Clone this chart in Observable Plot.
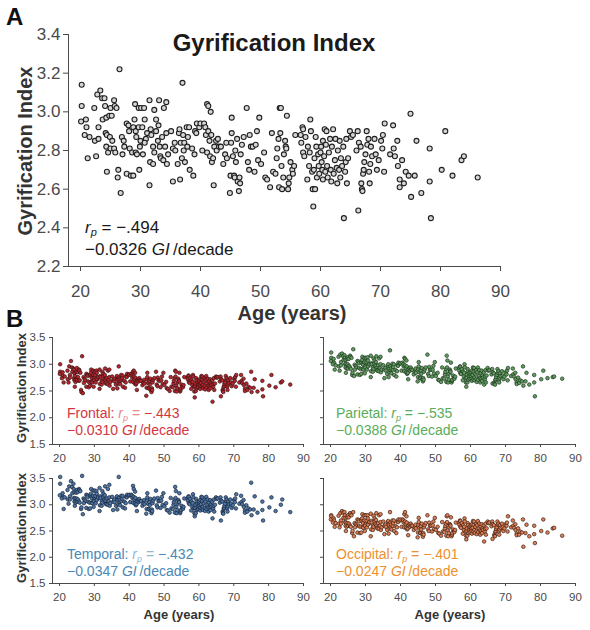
<!DOCTYPE html>
<html><head><meta charset="utf-8">
<script src="https://cdn.jsdelivr.net/npm/d3@7"></script>
<script src="https://cdn.jsdelivr.net/npm/@observablehq/plot@0.6"></script>
<style>
html,body{margin:0;padding:0;background:#fff;}
#chart{position:relative;width:590px;height:630px;overflow:hidden;font-family:"Liberation Sans",Arial,Helvetica,sans-serif;}
#chart > svg{position:absolute;}
</style></head><body><div id="chart"></div>
<script>
// Age of each subject (years)
const ages = [
20.2,20.2,20.1,20.9,21,20.7,21.5,21.2,22.3,22.4,22.6,22.8,23.3,23,23,23.7,23.6,24,24.1,24.3,24.2,24.4,24.3,24.4,24.6,24.8,25,
25.2,24.9,25,25.3,25.6,25.7,26,25.6,25.8,26.2,26.3,26.5,26.7,26.9,27.2,27.3,27,27.7,27.7,28,28.1,28.2,28.4,28.8,28.6,28.8,29.1,29,29.2,29.3,29.2,29.4,29.7,29.7,29.8,
30,29.9,30.1,30.3,30.4,30.6,30.7,30.9,30.7,31.1,31.5,31.5,31.6,31.7,31.8,32.1,32.1,32.3,32.3,32.6,32.6,33,32.9,33.1,33.2,33.3,33.4,33.6,33.8,33.9,34.1,34.3,34.3,34.4,34.6,
35.1,35.4,35.4,35.7,35.8,36.2,36.4,36.5,36.6,36.7,36.9,37,37.1,37.2,37.3,37.4,37.7,37.8,37.9,38.1,38.2,38.6,38.8,39,39.1,39.3,39.4,39.8,
40,40.3,40.6,40.8,40.9,41.1,41.3,41.1,41.3,41.5,41.7,41.6,41.8,41.9,42.1,42.2,42.3,42.6,42.7,42.9,43.1,43.4,43.8,44.1,44.3,44.4,
44.9,45,45.1,45.2,45.2,45.4,45.6,45.7,45.8,45.9,46.1,46.2,46.4,46.5,46.6,46.7,46.9,47.2,47.7,47.9,48.1,48.2,48.4,48.7,49,49.2,49.4,49.6,49.8,
50.1,50.6,50.8,51.1,51.6,51.9,52.1,52.5,52.7,52.8,53,53.1,53.2,53.4,53.3,53.5,53.6,53.8,53.9,54.1,54.2,54.3,54.4,54.6,54.7,54.8,
55,55.3,55.4,55.6,55.8,56.7,56.8,57,57.1,57.1,57.3,57.5,57.8,57.9,58.1,58.2,58.3,58.4,58.6,58.7,58.8,58.9,59,59.1,59.2,59.3,59.4,59.6,59.7,59.8,
60,60.1,60.2,60.3,60.4,60.4,60.6,60.7,60.8,60.9,61,61.1,61.2,61.4,61.6,61.7,61.8,61.9,62.1,62.2,62.4,62.5,62.7,62.8,62.9,63.1,63.2,63.3,63.4,63.6,63.8,63.9,64.1,64.2,64.3,64.4,64.6,64.9,
65.1,65.4,66,66.2,66.3,66.4,66.7,66.8,66.9,67,67.1,67.2,67.3,67.5,67.7,67.8,68,68.1,68.2,68.3,68.4,68.6,69,69.2,69.4,69.7,
70.1,70.3,70.4,70.6,70.7,71.6,72.1,72.2,72.4,72.8,72.9,73.2,73.2,73.6,73.9,74.2,74.7,75,75.1,75.7,
76,76.8,78.2,78.2,78.4,80.2,80.8,82,83.5,83.9,86.2
];
// Whole-brain gyrification index
const giWhole = [
3.14,3.03,2.95,2.96,2.92,2.88,2.87,2.76,3.02,2.85,2.77,3.09,3.11,2.92,2.86,2.96,3.07,3.07,3.03,2.97,2.89,2.88,2.82,2.69,2.79,2.98,3.02,
2.98,2.87,2.81,2.85,3.06,3.03,3.02,2.81,2.79,2.66,2.70,3.22,2.58,2.87,2.85,2.82,2.78,2.68,2.94,2.93,2.90,2.81,2.67,2.67,2.79,2.92,3.04,2.96,2.90,2.87,2.79,2.78,2.92,3.02,2.70,
2.85,2.82,3.02,2.92,2.78,3.02,2.96,2.86,2.84,2.89,2.62,3.06,2.74,2.91,2.88,2.82,2.73,2.79,3.01,2.96,2.90,2.93,2.85,3.06,2.82,2.77,2.76,2.87,2.75,3.02,2.82,3.05,2.89,2.73,2.78,
2.90,2.64,2.81,2.84,2.80,2.73,2.89,2.91,2.65,2.84,2.76,3.15,2.88,2.80,2.84,2.74,2.92,2.82,2.87,2.92,2.70,2.81,2.67,2.78,2.90,2.89,2.94,2.92,
2.94,2.80,2.94,2.92,2.88,3.04,3.03,2.79,2.90,2.85,3.00,2.77,2.88,2.74,2.76,2.62,2.82,2.85,2.80,2.86,2.82,2.82,2.73,2.78,2.84,2.76,
2.58,2.67,2.84,2.97,2.89,2.77,2.67,2.66,2.80,2.74,2.86,2.64,2.59,2.66,2.63,2.78,2.83,2.87,3.02,2.74,2.70,2.88,2.82,2.82,2.69,2.83,2.90,2.75,2.97,
2.73,2.79,2.66,2.65,2.61,2.89,2.69,2.68,2.76,2.81,2.86,2.61,3.02,3.02,2.89,2.72,2.60,2.66,2.78,2.85,2.82,2.81,2.98,2.60,2.63,2.66,
2.74,2.70,2.68,2.72,2.88,2.88,2.84,2.92,2.91,2.79,2.77,2.87,2.65,2.82,2.72,2.79,2.96,2.90,2.69,2.60,2.51,2.70,2.76,2.60,2.87,2.82,2.66,2.78,2.72,2.68,
2.79,2.82,2.74,2.70,2.85,2.65,2.77,2.91,2.69,2.83,2.90,2.72,2.66,2.79,2.86,2.70,2.64,2.82,2.91,2.68,2.75,2.86,2.71,2.63,2.80,2.70,2.85,2.66,2.76,2.72,2.82,2.45,2.69,2.74,2.86,2.63,2.76,2.90,
2.87,2.88,2.80,2.90,2.49,2.84,2.82,2.63,2.60,2.59,2.68,2.70,2.74,2.78,2.90,2.83,2.86,2.69,2.63,2.73,2.82,2.77,2.86,2.78,2.70,2.75,
2.85,2.81,2.88,2.69,2.94,2.78,2.93,2.81,2.77,2.85,2.72,2.65,2.61,2.75,2.63,2.69,2.67,2.99,2.56,2.67,
2.85,2.58,2.81,2.64,2.45,2.70,2.90,2.67,2.75,2.77,2.66
];
const giFrontal = [
3.00,2.86,2.82,2.85,2.78,2.74,2.77,2.66,2.88,2.72,2.66,2.96,3.06,2.80,2.75,2.86,2.94,2.92,2.90,2.83,2.74,2.78,2.70,2.58,2.67,2.86,2.93,
2.85,2.72,2.70,2.76,2.90,2.88,2.84,2.69,2.70,2.52,2.48,3.15,2.46,2.76,2.73,2.70,2.65,2.58,2.82,2.80,2.78,2.68,2.57,2.60,2.66,2.80,2.90,2.84,2.76,2.74,2.67,2.66,2.80,2.88,2.58,
2.74,2.70,2.86,2.80,2.66,2.88,2.84,2.72,2.73,2.76,2.54,2.90,2.63,2.78,2.76,2.69,2.62,2.67,2.86,2.82,2.77,2.80,2.72,2.92,2.70,2.64,2.66,2.74,2.63,2.88,2.71,2.90,2.76,2.60,2.67,
2.77,2.54,2.70,2.72,2.68,2.62,2.76,2.78,2.55,2.71,2.64,2.96,2.75,2.68,2.72,2.63,2.80,2.70,2.74,2.79,2.58,2.69,2.56,2.66,2.77,2.76,2.82,2.80,
2.81,2.68,2.82,2.79,2.75,2.86,2.88,2.67,2.77,2.72,2.84,2.64,2.75,2.62,2.65,2.52,2.70,2.72,2.68,2.74,2.70,2.69,2.61,2.66,2.71,2.64,
2.41,2.56,2.72,2.84,2.76,2.65,2.55,2.55,2.68,2.62,2.73,2.52,2.48,2.55,2.52,2.66,2.71,2.74,2.86,2.62,2.59,2.75,2.70,2.69,2.57,2.70,2.77,2.63,2.84,
2.61,2.67,2.55,2.54,2.50,2.76,2.58,2.57,2.64,2.69,2.74,2.50,2.88,2.86,2.77,2.60,2.49,2.55,2.66,2.73,2.70,2.68,2.84,2.49,2.52,2.55,
2.62,2.59,2.57,2.61,2.76,2.75,2.72,2.79,2.78,2.67,2.65,2.74,2.54,2.70,2.61,2.67,2.80,2.77,2.58,2.49,2.38,2.59,2.64,2.50,2.74,2.70,2.55,2.66,2.61,2.57,
2.67,2.70,2.62,2.59,2.73,2.54,2.65,2.78,2.58,2.71,2.77,2.61,2.55,2.67,2.74,2.59,2.53,2.70,2.78,2.57,2.64,2.73,2.60,2.52,2.68,2.59,2.72,2.55,2.64,2.61,2.70,2.30,2.58,2.63,2.74,2.52,2.64,2.77,
2.75,2.76,2.68,2.77,2.40,2.72,2.70,2.52,2.50,2.48,2.57,2.59,2.63,2.66,2.78,2.71,2.74,2.58,2.52,2.62,2.70,2.65,2.74,2.66,2.59,2.64,
2.73,2.69,2.76,2.58,2.80,2.66,2.80,2.69,2.65,2.73,2.61,2.54,2.50,2.64,2.52,2.58,2.56,2.86,2.48,2.56,
2.72,2.49,2.69,2.53,2.40,2.60,2.80,2.57,2.66,2.68,2.62
];
const giParietal = [
3.22,3.12,3.06,3.10,3.03,3.00,2.98,2.90,3.14,2.96,2.88,3.18,3.20,3.04,2.98,3.08,3.15,3.17,3.12,3.08,3.00,3.01,2.94,2.84,2.92,3.10,3.13,
3.10,3.00,2.92,2.97,3.16,3.14,3.12,2.94,2.91,2.80,2.84,3.28,2.78,2.99,2.97,2.94,2.90,2.81,3.06,3.05,3.02,2.93,2.80,2.82,2.91,3.03,3.14,3.08,3.01,2.99,2.91,2.90,3.04,3.12,2.83,
2.97,2.94,3.12,3.04,2.90,3.13,3.07,2.98,2.96,3.00,2.76,3.16,2.87,3.02,3.00,2.94,2.86,2.91,3.11,3.07,3.01,3.04,2.97,3.15,2.93,2.89,2.88,2.98,2.87,3.11,2.93,3.14,3.00,2.85,2.90,
2.98,2.74,2.90,2.93,2.88,2.82,2.97,3.00,2.76,2.92,2.85,3.26,2.96,2.89,2.92,2.83,3.01,2.90,2.95,3.00,2.80,2.89,2.77,2.87,2.98,2.97,3.03,3.01,
3.02,2.88,3.03,3.00,2.96,3.12,3.10,2.87,2.98,2.93,3.07,2.85,2.96,2.82,2.84,2.72,2.90,2.93,2.88,2.94,2.90,2.89,2.81,2.86,2.92,2.84,
2.68,2.76,2.91,3.04,2.96,2.85,2.75,2.74,2.88,2.82,2.93,2.72,2.68,2.74,2.71,2.86,2.90,2.94,3.18,2.82,2.78,2.95,2.89,2.90,2.77,2.90,2.97,2.83,3.04,
2.78,2.84,2.71,2.70,2.67,2.94,2.74,2.73,2.81,2.86,2.91,2.67,3.16,3.07,2.94,2.77,2.66,2.71,2.83,2.90,2.87,2.86,3.03,2.66,2.69,2.71,
2.79,2.75,2.73,2.77,2.92,2.93,2.88,2.96,2.95,2.83,2.82,2.91,2.70,2.86,2.77,2.84,3.00,2.94,2.74,2.66,2.58,2.75,2.81,2.66,2.91,2.86,2.71,2.83,2.77,2.73,
2.82,2.85,2.77,2.73,2.88,2.69,2.80,2.94,2.72,2.86,2.93,2.75,2.70,2.82,2.89,2.73,2.67,2.85,2.94,2.71,2.78,2.89,2.74,2.66,2.83,2.73,2.88,2.69,2.79,2.75,2.85,2.62,2.72,2.77,2.89,2.66,2.79,2.93,
2.88,2.89,2.81,2.91,2.64,2.85,2.83,2.66,2.63,2.62,2.70,2.72,2.76,2.80,2.91,2.84,2.87,2.71,2.66,2.75,2.83,2.78,2.87,2.79,2.72,2.77,
2.85,2.81,2.88,2.70,2.93,2.78,2.92,2.81,2.77,2.84,2.72,2.66,2.63,2.75,2.65,2.70,2.68,2.96,2.60,2.68,
2.84,2.62,2.80,2.66,2.40,2.72,2.88,2.74,2.76,2.77,2.73
];
const giTemporal = [
3.53,3.40,3.18,3.22,3.15,3.12,3.14,2.92,3.28,3.10,3.02,3.35,3.45,3.16,3.10,3.22,3.34,3.40,3.30,3.24,3.13,3.12,3.06,2.98,3.04,3.23,3.28,
3.24,3.12,3.06,3.10,3.30,3.28,3.26,3.06,3.04,2.92,2.95,3.55,2.82,3.12,3.10,3.07,3.03,2.94,3.19,3.18,3.15,3.06,2.92,2.93,3.04,3.17,3.30,3.21,3.15,3.12,3.04,3.03,3.17,3.27,2.96,
3.10,3.07,3.27,3.17,3.03,3.26,3.21,3.11,3.09,3.14,2.88,3.32,2.99,3.16,3.13,3.07,2.98,3.04,3.26,3.21,3.15,3.18,3.10,3.35,3.07,3.02,3.01,3.12,3.00,3.30,3.07,3.38,3.14,2.98,3.03,
3.15,2.90,3.06,3.09,3.05,2.98,3.14,3.16,2.91,3.09,3.01,3.53,3.13,3.05,3.09,2.99,3.17,3.07,3.12,3.17,2.95,3.06,2.93,3.03,3.15,3.14,3.19,3.17,
3.19,3.05,3.19,3.17,3.13,3.36,3.30,3.04,3.15,3.10,3.25,3.02,3.13,2.99,3.01,2.88,3.07,3.10,3.05,3.11,3.07,3.07,2.98,3.03,3.09,3.01,
2.83,2.92,3.09,3.22,3.14,3.02,2.92,2.91,3.05,2.99,3.11,2.89,2.84,2.91,2.88,3.03,3.08,3.12,3.27,2.99,2.95,3.13,3.07,3.07,2.94,3.08,3.15,3.00,3.22,
2.97,3.03,2.90,2.89,2.85,3.13,2.93,2.92,3.00,3.05,3.10,2.85,3.34,3.26,3.13,2.96,2.84,2.90,3.02,3.09,3.06,3.05,3.22,2.84,2.87,2.90,
2.98,2.94,2.92,2.96,3.12,3.12,3.08,3.16,3.15,3.03,3.01,3.11,2.89,3.06,2.96,3.03,3.20,3.14,2.93,2.84,2.78,2.94,3.00,2.84,3.11,3.06,2.90,3.02,2.96,2.92,
3.03,3.06,2.98,2.94,3.09,2.89,3.01,3.15,2.93,3.07,3.14,2.96,2.90,3.03,3.10,2.94,2.88,3.06,3.15,2.92,2.99,3.10,2.95,2.87,3.04,2.94,3.09,2.90,3.00,2.96,3.06,2.74,2.93,2.98,3.10,2.87,3.00,3.14,
3.11,3.12,3.04,3.14,2.70,3.08,3.06,2.87,2.84,2.83,2.92,2.94,2.98,3.02,3.14,3.07,3.10,2.93,2.87,2.97,3.06,3.01,3.10,3.02,2.94,2.99,
3.09,3.05,3.12,2.93,3.20,3.02,3.17,3.05,3.01,3.09,2.96,2.89,2.85,2.99,2.87,2.93,2.91,3.42,2.80,2.91,
3.16,2.85,3.06,2.90,2.70,2.95,3.14,2.88,3.00,3.10,2.86
];
const giOccipital = [
2.80,2.78,2.72,2.74,2.70,2.66,2.65,2.58,2.79,2.64,2.57,2.84,2.88,2.70,2.64,2.75,2.85,2.86,2.80,2.75,2.67,2.66,2.60,2.50,2.58,2.76,2.80,
2.76,2.65,2.60,2.64,2.84,2.81,2.80,2.60,2.58,2.46,2.50,2.86,2.40,2.65,2.63,2.60,2.57,2.47,2.72,2.71,2.68,2.59,2.46,2.47,2.58,2.70,2.82,2.74,2.68,2.65,2.57,2.56,2.70,2.80,2.50,
2.63,2.60,2.80,2.70,2.57,2.80,2.74,2.64,2.62,2.67,2.40,2.83,2.53,2.69,2.66,2.60,2.52,2.58,2.79,2.74,2.68,2.71,2.63,2.84,2.60,2.56,2.55,2.65,2.54,2.80,2.60,2.82,2.67,2.52,2.57,
2.68,2.44,2.60,2.62,2.58,2.52,2.67,2.69,2.45,2.62,2.55,2.86,2.66,2.58,2.62,2.53,2.70,2.60,2.65,2.70,2.50,2.59,2.46,2.57,2.68,2.67,2.72,2.70,
2.72,2.58,2.72,2.70,2.66,2.82,2.86,2.57,2.68,2.63,2.78,2.56,2.66,2.53,2.55,2.42,2.60,2.63,2.58,2.64,2.60,2.60,2.52,2.57,2.62,2.55,
2.38,2.47,2.62,2.75,2.67,2.56,2.47,2.46,2.59,2.53,2.64,2.44,2.39,2.46,2.43,2.57,2.61,2.65,2.80,2.53,2.50,2.66,2.60,2.60,2.49,2.61,2.68,2.54,2.75,
2.52,2.58,2.46,2.45,2.41,2.67,2.49,2.48,2.55,2.60,2.64,2.41,2.78,2.80,2.67,2.51,2.40,2.46,2.57,2.63,2.61,2.60,2.76,2.40,2.43,2.46,
2.53,2.50,2.48,2.52,2.66,2.66,2.62,2.70,2.69,2.58,2.56,2.65,2.45,2.61,2.52,2.58,2.74,2.68,2.49,2.41,2.34,2.50,2.55,2.41,2.65,2.61,2.46,2.57,2.52,2.48,
2.58,2.61,2.54,2.50,2.63,2.45,2.56,2.69,2.49,2.62,2.68,2.52,2.46,2.58,2.64,2.50,2.44,2.61,2.69,2.48,2.55,2.64,2.51,2.43,2.59,2.50,2.63,2.46,2.55,2.52,2.61,2.30,2.49,2.54,2.64,2.43,2.55,2.68,
2.65,2.66,2.59,2.68,2.35,2.63,2.61,2.43,2.41,2.40,2.48,2.50,2.54,2.57,2.68,2.62,2.64,2.49,2.43,2.53,2.61,2.56,2.64,2.57,2.50,2.55,
2.63,2.60,2.66,2.49,2.78,2.57,2.70,2.60,2.56,2.63,2.52,2.45,2.42,2.55,2.43,2.49,2.47,2.72,2.20,2.46,
2.62,2.40,2.60,2.44,2.27,2.50,2.72,2.47,2.55,2.56,2.41
];

const xTicks = [20,30,40,50,60,70,80,90];
const mainYTicks = [2.2,2.4,2.6,2.8,3.0,3.2,3.4];
const regionYTicks = [1.5,2.0,2.5,3.0,3.5];

const FONT = '"Liberation Sans", Arial, Helvetica, sans-serif';
const chart = document.getElementById("chart");

function panel(o) {
  const n = Math.min(ages.length, o.values.length);
  const idx = d3.range(n);
  const svg = Plot.plot({
    width: o.width, height: o.height,
    marginLeft: o.ml, marginRight: o.mr, marginTop: o.mt, marginBottom: o.mb,
    style: {background: "transparent", fontFamily: FONT, fontSize: o.fontSize + "px", color: "#4a4a4a", overflow: "visible"},
    x: {domain: [18, 90], ticks: xTicks, tickSize: o.tickSize, tickPadding: o.xPad, label: null, line: true},
    y: {domain: o.yDomain, ticks: o.yTicks, tickSize: o.tickSize, tickPadding: o.yPad, label: null, line: true,
        tickFormat: o.showY ? d3.format(".1f") : () => ""},
    marks: [
      Plot.dot(idx, {x: i => ages[i], y: i => o.values[i], r: o.r, fill: o.fill, stroke: o.stroke, strokeWidth: o.sw})
    ]
  });
  svg.style.left = o.left + "px";
  svg.style.top = o.top + "px";
  chart.appendChild(svg);
}

// Panel A
panel({values: giWhole, left: 0, top: 0, width: 590, height: 330, ml: 68, mr: 90, mt: 34, mb: 64,
  yDomain: [2.2, 3.4], yTicks: mainYTicks, showY: true, fontSize: 17, tickSize: 5, xPad: 13, yPad: 3,
  r: 2.5, fill: "#d6d6d6", stroke: "#1e1e1e", sw: 1.1});

const small = {fontSize: 11.5, tickSize: 3, xPad: 6, yPad: 4, r: 1.8, sw: 0.7, yDomain: [1.5, 3.5], yTicks: regionYTicks};
panel({...small, values: giFrontal, left: 0, top: 320, width: 315, height: 144, ml: 52, mr: 12, mt: 17, mb: 20,
  showY: true, fill: "#b8262e", stroke: "#3a1214"});
panel({...small, values: giParietal, left: 300, top: 320, width: 290, height: 144, ml: 23, mr: 15, mt: 17, mb: 20,
  showY: false, fill: "#5f9e5f", stroke: "#1f331f"});
panel({...small, values: giTemporal, left: 0, top: 461, width: 315, height: 142, ml: 52, mr: 12, mt: 17, mb: 20,
  showY: true, fill: "#4f76a6", stroke: "#16243a"});
panel({...small, values: giOccipital, left: 300, top: 461, width: 290, height: 142, ml: 23, mr: 15, mt: 17, mb: 20,
  showY: false, fill: "#de7f55", stroke: "#3c1e12"});

// Text overlay
const ns = "http://www.w3.org/2000/svg";
const ov = document.createElementNS(ns, "svg");
ov.setAttribute("width", 590); ov.setAttribute("height", 630);
ov.style.left = "0px"; ov.style.top = "0px"; ov.style.fontFamily = FONT;
function stat(x, y1, y2, size, color, rLabel, rVal, slope, rColor) {
  const sub = Math.round(size * 0.62);
  const d = (size * 0.18).toFixed(1);
  return `<text x="${x}" y="${y1}" font-size="${size}" fill="${color}">${rLabel}<tspan fill="${rColor}" font-style="italic">r</tspan><tspan fill="${rColor}" font-style="italic" font-size="${sub}" dy="${d}">p</tspan><tspan fill="${rColor}" dy="-${d}"> = </tspan><tspan>${rVal}</tspan></text>
  <text x="${x}" y="${y2}" font-size="${size}" fill="${color}">${slope} <tspan font-style="italic">GI</tspan>\u2009/decade</text>`;
}
ov.innerHTML = `
<text x="6" y="25" font-size="24" font-weight="bold" fill="#111">A</text>
<text x="6" y="327" font-size="24" font-weight="bold" fill="#111">B</text>
<text x="274" y="51" font-size="24" font-weight="bold" fill="#1a1a1a" text-anchor="middle">Gyrification Index</text>
<text transform="translate(32,151) rotate(-90)" font-size="20" font-weight="bold" fill="#333" text-anchor="middle">Gyrification Index</text>
<text x="292" y="320" font-size="20" font-weight="bold" fill="#333" text-anchor="middle">Age (years)</text>
<text transform="translate(26,388) rotate(-90)" font-size="13" font-weight="bold" fill="#333" text-anchor="middle">Gyrification Index</text>
<text transform="translate(26,528) rotate(-90)" font-size="13" font-weight="bold" fill="#333" text-anchor="middle">Gyrification Index</text>
<text x="179" y="619" font-size="13" font-weight="bold" fill="#333" text-anchor="middle">Age (years)</text>
<text x="450" y="619" font-size="13" font-weight="bold" fill="#333" text-anchor="middle">Age (years)</text>
${stat(85, 233, 255, 17, "#1a1a1a", "", "\u2212.494", "\u22120.0326", "#1a1a1a")}
${stat(67, 418, 435, 14, "#d2363f", "Frontal: ", "\u2212.443", "\u22120.0310", "#e58a90")}
${stat(336, 418, 435, 14, "#5aad5a", "Parietal: ", "\u2212.535", "\u22120.0388", "#5aad5a")}
${stat(67, 559, 576, 14, "#4a88b6", "Temporal: ", "\u2212.432", "\u22120.0347", "#8fb8d6")}
${stat(336, 559, 576, 14, "#ec8f2e", "Occipital: ", "\u2212.401", "\u22120.0247", "#ec8f2e")}
`;
chart.appendChild(ov);
</script>
</body></html>
